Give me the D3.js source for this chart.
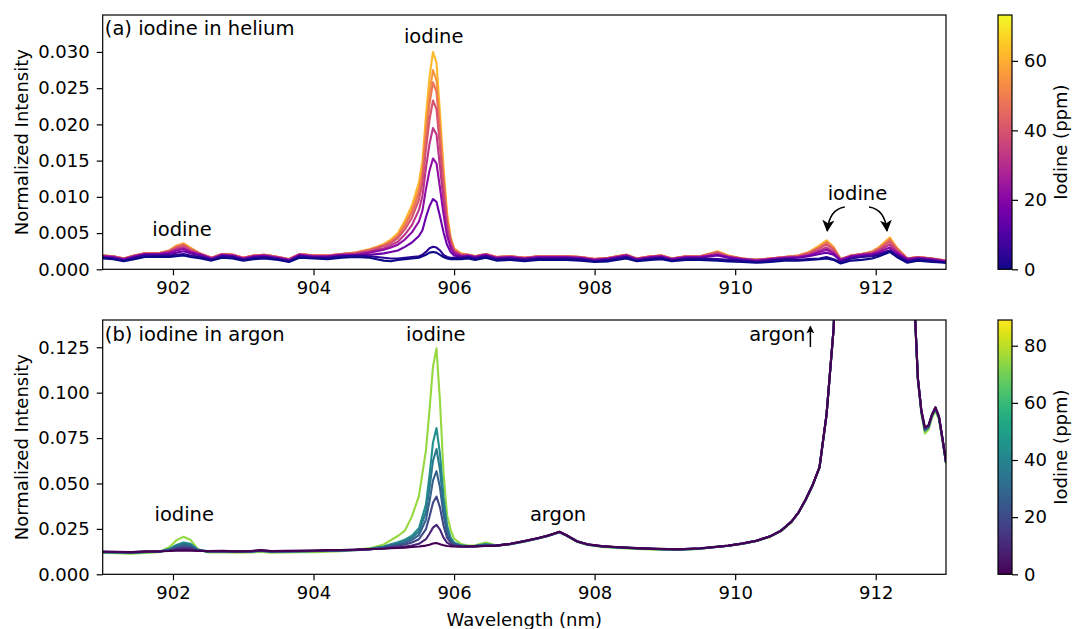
<!DOCTYPE html>
<html><head><meta charset="utf-8">
<script src="https://cdn.jsdelivr.net/npm/d3@7"></script>
<style>body{margin:0;background:#fff;} svg text{font-family:"DejaVu Sans",sans-serif;}</style>
</head><body><svg id="c" width="1072" height="629"></svg>
<script>
// ---------------- DATA ----------------
const xTicks = [902, 904, 906, 908, 910, 912];
const heliumYTicks = [0, 0.005, 0.010, 0.015, 0.020, 0.025, 0.030];
const argonYTicks = [0, 0.025, 0.050, 0.075, 0.100, 0.125];
const heliumCbTicks = [0, 20, 40, 60];
const argonCbTicks = [0, 20, 40, 60, 80];

// (a) iodine in helium
const heliumWavelength = [901.0,901.15,901.3,901.45,901.6,901.8,901.95,902.05,902.15,902.25,902.4,902.55,902.7,902.85,903.0,903.15,903.3,903.5,903.65,903.8,904.0,904.2,904.4,904.6,904.8,904.9,905.0,905.1,905.2,905.3,905.4,905.5,905.55,905.6,905.65,905.7,905.75,905.8,905.85,905.9,905.95,906.0,906.1,906.2,906.3,906.45,906.6,906.8,907.0,907.2,907.4,907.6,907.8,908.0,908.2,908.45,908.6,908.8,908.95,909.1,909.3,909.5,909.75,909.9,910.1,910.3,910.5,910.7,910.9,911.05,911.2,911.3,911.4,911.5,911.65,911.8,911.95,912.05,912.2,912.3,912.45,912.6,912.8,913.0];
const heliumPpm = [0, 4, 15, 22, 32, 40, 48, 55, 62];
const helium0 = [.0015,.0014,.0011,.0014,.0017,.0017,.0017,.0018,.0019,.0017,.0015,.0012,.0016,.0015,.0012,.0014,.0015,.0013,.0010,.0016,.0015,.0014,.0016,.0017,.0016,.0014,.0012,.0011,.0013,.0014,.0015,.0016,.0018,.0020,.0023,.0024,.0023,.0020,.0017,.0015,.0014,.0014,.0014,.0015,.0013,.0016,.0012,.0013,.0011,.0013,.0013,.0013,.0012,.0010,.0011,.0015,.0011,.0013,.0014,.0011,.0013,.0013,.0012,.0011,.0010,.0009,.0010,.0012,.0012,.0013,.0014,.0015,.0013,.0008,.0012,.0013,.0015,.0018,.0024,.0017,.0009,.0012,.0010,.0009];
const helium4 = [.0016,.0015,.0012,.0016,.0019,.0019,.0019,.0020,.0021,.0019,.0017,.0013,.0018,.0017,.0013,.0016,.0017,.0014,.0011,.0018,.0016,.0016,.0018,.0019,.0018,.0017,.0016,.0015,.0015,.0016,.0017,.0018,.0020,.0024,.0029,.0031,.0030,.0026,.0020,.0017,.0016,.0016,.0016,.0017,.0015,.0018,.0014,.0015,.0013,.0015,.0015,.0015,.0014,.0011,.0013,.0017,.0012,.0015,.0016,.0012,.0015,.0015,.0014,.0013,.0012,.0010,.0012,.0014,.0013,.0014,.0015,.0017,.0014,.0010,.0015,.0017,.0018,.0020,.0026,.0019,.0011,.0014,.0012,.0009];
const helium15 = [.0017,.0016,.0013,.0017,.0020,.0020,.0021,.0023,.0025,.0022,.0019,.0014,.0019,.0018,.0014,.0017,.0018,.0015,.0012,.0019,.0017,.0017,.0019,.0019,.0020,.0021,.0022,.0024,.0026,.0031,.0037,.0046,.0054,.0072,.0087,.0097,.0093,.0073,.0051,.0034,.0024,.0019,.0017,.0018,.0016,.0019,.0015,.0016,.0014,.0016,.0016,.0016,.0015,.0012,.0014,.0018,.0013,.0016,.0017,.0013,.0016,.0016,.0019,.0016,.0013,.0011,.0013,.0015,.0016,.0018,.0021,.0023,.0020,.0012,.0017,.0019,.0020,.0022,.0026,.0021,.0013,.0015,.0013,.0010];
const helium22 = [.0018,.0017,.0014,.0018,.0021,.0021,.0023,.0026,.0028,.0024,.0020,.0015,.0020,.0019,.0015,.0018,.0019,.0016,.0013,.0020,.0018,.0018,.0020,.0020,.0023,.0025,.0027,.0030,.0034,.0041,.0051,.0066,.0081,.0111,.0136,.0153,.0146,.0112,.0076,.0046,.0030,.0022,.0018,.0019,.0017,.0020,.0016,.0017,.0015,.0017,.0017,.0017,.0016,.0013,.0015,.0019,.0014,.0017,.0018,.0014,.0017,.0017,.0020,.0017,.0014,.0012,.0014,.0016,.0017,.0019,.0024,.0027,.0022,.0013,.0018,.0020,.0021,.0024,.0030,.0023,.0014,.0016,.0014,.0011];
const helium32 = [.0018,.0017,.0014,.0018,.0021,.0021,.0024,.0028,.0030,.0025,.0020,.0015,.0020,.0019,.0015,.0018,.0019,.0016,.0013,.0020,.0018,.0018,.0020,.0021,.0024,.0027,.0029,.0033,.0038,.0048,.0061,.0082,.0101,.0140,.0173,.0195,.0186,.0141,.0094,.0055,.0034,.0024,.0019,.0019,.0017,.0020,.0016,.0017,.0015,.0017,.0017,.0017,.0016,.0013,.0015,.0019,.0014,.0017,.0018,.0014,.0017,.0017,.0021,.0017,.0014,.0012,.0014,.0016,.0017,.0020,.0026,.0030,.0024,.0013,.0018,.0020,.0022,.0026,.0034,.0025,.0014,.0016,.0014,.0011];
const helium40 = [.0019,.0018,.0015,.0019,.0022,.0022,.0025,.0030,.0033,.0027,.0021,.0016,.0021,.0020,.0016,.0019,.0020,.0017,.0014,.0021,.0019,.0019,.0021,.0022,.0026,.0029,.0032,.0036,.0043,.0055,.0071,.0096,.0119,.0166,.0206,.0233,.0221,.0168,.0111,.0064,.0039,.0026,.0020,.0020,.0018,.0021,.0017,.0018,.0016,.0018,.0018,.0018,.0017,.0014,.0016,.0020,.0015,.0018,.0019,.0015,.0018,.0018,.0023,.0018,.0015,.0013,.0015,.0017,.0018,.0022,.0029,.0034,.0027,.0014,.0019,.0021,.0023,.0028,.0038,.0027,.0015,.0017,.0015,.0012];
const helium48 = [.0019,.0018,.0015,.0019,.0022,.0022,.0026,.0031,.0034,.0028,.0021,.0016,.0021,.0020,.0016,.0019,.0020,.0017,.0014,.0021,.0019,.0019,.0021,.0023,.0027,.0030,.0033,.0038,.0046,.0060,.0078,.0105,.0130,.0183,.0228,.0258,.0245,.0186,.0122,.0069,.0041,.0027,.0021,.0020,.0018,.0021,.0017,.0018,.0016,.0018,.0018,.0018,.0017,.0014,.0016,.0020,.0015,.0018,.0019,.0015,.0018,.0018,.0024,.0018,.0015,.0013,.0015,.0017,.0019,.0023,.0030,.0037,.0029,.0014,.0019,.0021,.0024,.0029,.0041,.0029,.0015,.0017,.0015,.0012];
const helium55 = [.0019,.0018,.0015,.0019,.0022,.0022,.0026,.0032,.0035,.0029,.0021,.0016,.0021,.0020,.0016,.0019,.0020,.0017,.0014,.0021,.0019,.0019,.0021,.0023,.0027,.0030,.0034,.0039,.0047,.0063,.0082,.0111,.0138,.0195,.0243,.0275,.0261,.0197,.0129,.0073,.0043,.0028,.0021,.0020,.0018,.0021,.0017,.0018,.0016,.0018,.0018,.0018,.0017,.0014,.0016,.0020,.0015,.0018,.0019,.0015,.0018,.0018,.0024,.0019,.0015,.0013,.0015,.0017,.0019,.0023,.0031,.0038,.0030,.0014,.0019,.0021,.0024,.0030,.0042,.0029,.0015,.0017,.0015,.0012];
const helium62 = [.0019,.0018,.0015,.0019,.0022,.0022,.0026,.0033,.0036,.0030,.0021,.0016,.0021,.0020,.0016,.0019,.0020,.0017,.0014,.0021,.0019,.0019,.0021,.0023,.0028,.0031,.0035,.0041,.0050,.0067,.0088,.0120,.0150,.0212,.0265,.0300,.0285,.0215,.0140,.0078,.0045,.0029,.0022,.0020,.0018,.0021,.0017,.0018,.0016,.0018,.0018,.0018,.0017,.0014,.0016,.0020,.0015,.0018,.0019,.0015,.0018,.0018,.0025,.0019,.0015,.0013,.0015,.0017,.0019,.0024,.0033,.0040,.0031,.0014,.0019,.0021,.0025,.0031,.0044,.0030,.0015,.0017,.0015,.0012];

// (b) iodine in argon
const argonWavelength = [901.0,901.2,901.4,901.6,901.8,901.95,902.05,902.15,902.25,902.35,902.5,902.7,902.9,903.1,903.25,903.4,903.6,903.8,904.0,904.2,904.4,904.6,904.8,905.0,905.1,905.2,905.3,905.4,905.5,905.6,905.65,905.7,905.75,905.8,905.85,905.9,905.95,906.0,906.1,906.2,906.3,906.45,906.6,906.8,907.0,907.2,907.35,907.5,907.6,907.75,907.9,908.1,908.3,908.6,908.9,909.2,909.5,909.7,909.9,910.1,910.3,910.5,910.65,910.8,910.9,911.0,911.1,911.2,911.3,911.4,911.5,911.7,912.0,912.3,912.45,912.55,912.6,912.65,912.7,912.75,912.8,912.85,912.9,912.95,913.0];
const argonPpm = [0, 9, 19, 28, 36, 44, 75];
const argon0 = [.0125,.0124,.0122,.0126,.0127,.0128,.0130,.0131,.0130,.0129,.0128,.0129,.0127,.0128,.0133,.0128,.0129,.0130,.0131,.0133,.0134,.0136,.0139,.0141,.0143,.0145,.0147,.0150,.0153,.0158,.0163,.0170,.0172,.0166,.0160,.0156,.0154,.0153,.0152,.0153,.0154,.0156,.0158,.0168,.0183,.0200,.0215,.0234,.0215,.0182,.0165,.0155,.0150,.0144,.0140,.0138,.0143,.0150,.0158,.0170,.0185,.0210,.0240,.0290,.0340,.0410,.0490,.0590,.0880,.1350,.2200,.4000,.6000,.4000,.2500,.1500,.1080,.0900,.0810,.0820,.0880,.0920,.0870,.0750,.0620];
const argon9 = [.0124,.0123,.0121,.0125,.0126,.0130,.0137,.0140,.0139,.0130,.0127,.0128,.0126,.0127,.0132,.0127,.0128,.0129,.0130,.0132,.0133,.0135,.0138,.0142,.0146,.0149,.0153,.0159,.0168,.0193,.0223,.0257,.0272,.0246,.0202,.0174,.0162,.0156,.0153,.0153,.0154,.0157,.0158,.0168,.0183,.0200,.0215,.0234,.0215,.0182,.0165,.0155,.0150,.0144,.0140,.0138,.0143,.0150,.0158,.0170,.0185,.0210,.0240,.0290,.0340,.0410,.0490,.0590,.0880,.1350,.2200,.4000,.6000,.4000,.2500,.1500,.1080,.0900,.0805,.0818,.0878,.0918,.0868,.0748,.0618];
const argon19 = [.0123,.0122,.0120,.0124,.0125,.0132,.0144,.0150,.0147,.0131,.0126,.0127,.0125,.0126,.0131,.0126,.0127,.0128,.0129,.0131,.0132,.0134,.0137,.0146,.0152,.0157,.0164,.0175,.0193,.0249,.0317,.0394,.0428,.0367,.0268,.0202,.0174,.0162,.0155,.0154,.0155,.0158,.0158,.0167,.0182,.0199,.0214,.0233,.0214,.0181,.0164,.0154,.0149,.0143,.0139,.0137,.0142,.0149,.0157,.0169,.0184,.0209,.0239,.0289,.0339,.0408,.0488,.0588,.0878,.1348,.2200,.4000,.6000,.4000,.2500,.1500,.1078,.0898,.0800,.0815,.0876,.0916,.0866,.0746,.0617];
const argon28 = [.0122,.0121,.0119,.0123,.0125,.0134,.0151,.0160,.0155,.0133,.0126,.0126,.0124,.0125,.0130,.0125,.0126,.0127,.0128,.0130,.0131,.0133,.0137,.0148,.0157,.0164,.0174,.0189,.0216,.0300,.0401,.0517,.0568,.0476,.0327,.0227,.0185,.0167,.0156,.0154,.0155,.0159,.0158,.0167,.0182,.0199,.0214,.0233,.0214,.0181,.0164,.0154,.0149,.0143,.0139,.0137,.0142,.0149,.0157,.0169,.0184,.0209,.0239,.0289,.0339,.0408,.0488,.0588,.0878,.1348,.2200,.4000,.6000,.4000,.2500,.1500,.1076,.0896,.0797,.0812,.0874,.0914,.0864,.0744,.0616];
const argon36 = [.0122,.0121,.0119,.0123,.0124,.0137,.0157,.0168,.0162,.0135,.0125,.0126,.0124,.0125,.0130,.0125,.0126,.0127,.0128,.0130,.0131,.0134,.0139,.0151,.0161,.0170,.0183,.0201,.0235,.0344,.0474,.0624,.0690,.0572,.0378,.0249,.0195,.0171,.0157,.0155,.0156,.0162,.0158,.0166,.0181,.0198,.0213,.0232,.0213,.0180,.0163,.0153,.0148,.0142,.0138,.0136,.0141,.0149,.0157,.0169,.0184,.0209,.0239,.0289,.0339,.0408,.0488,.0588,.0878,.1348,.2200,.4000,.6000,.4000,.2500,.1500,.1074,.0894,.0794,.0810,.0872,.0912,.0862,.0742,.0615];
const argon44 = [.0121,.0120,.0118,.0122,.0124,.0140,.0162,.0175,.0168,.0138,.0124,.0125,.0123,.0124,.0129,.0124,.0125,.0126,.0127,.0129,.0131,.0135,.0141,.0153,.0165,.0176,.0191,.0212,.0253,.0385,.0543,.0726,.0805,.0661,.0426,.0270,.0204,.0175,.0159,.0155,.0157,.0166,.0158,.0166,.0181,.0198,.0213,.0232,.0213,.0180,.0163,.0153,.0148,.0142,.0138,.0136,.0141,.0150,.0157,.0169,.0184,.0209,.0239,.0289,.0339,.0408,.0488,.0588,.0878,.1348,.2200,.4000,.6000,.4000,.2500,.1500,.1072,.0892,.0790,.0808,.0870,.0910,.0860,.0740,.0614];
const argon75 = [.0117,.0116,.0114,.0118,.0122,.0150,.0188,.0207,.0190,.0140,.0120,.0121,.0119,.0120,.0124,.0119,.0120,.0121,.0122,.0124,.0127,.0134,.0144,.0164,.0188,.0211,.0240,.0319,.0430,.0683,.0902,.1144,.1244,.0949,.0556,.0327,.0246,.0196,.0167,.0158,.0160,.0175,.0160,.0165,.0180,.0197,.0212,.0231,.0212,.0178,.0161,.0150,.0145,.0139,.0135,.0134,.0140,.0152,.0156,.0167,.0182,.0206,.0236,.0286,.0336,.0405,.0485,.0585,.0875,.1345,.2200,.4000,.6000,.4000,.2500,.1500,.1065,.0880,.0775,.0795,.0860,.0900,.0850,.0730,.0610];

const heliumSeries = [helium0, helium4, helium15, helium22, helium32, helium40, helium48, helium55, helium62];
const argonSeries = [argon0, argon9, argon19, argon28, argon36, argon44, argon75];

// ---------------- DRAW ----------------
const FONT = "DejaVu Sans, sans-serif";
const FS = 18;      // axis text
const FA = 19.5;    // annotation text
const svg = d3.select("#c");
const defs = svg.append("defs");
const X = d3.scaleLinear().domain([901, 913]).range([102.7, 946]);

function addMarker(id, size) {
  defs.append("marker").attr("id", id).attr("viewBox", "0 0 10 10")
    .attr("refX", 9).attr("refY", 5).attr("markerWidth", size).attr("markerHeight", size)
    .attr("markerUnits", "userSpaceOnUse").attr("orient", "auto")
    .append("path").attr("d", "M0,0 L10,5 L0,10 L2.5,5 Z").attr("fill", "#000");
}
addMarker("ahBig", 12);
addMarker("ahSmall", 8);

function styleAxis(a) {
  a.select(".domain").remove();
  a.attr("font-family", FONT).attr("font-size", FS);
  a.selectAll("line").attr("stroke", "#000").attr("stroke-width", 1.2);
  a.selectAll("text").attr("fill", "#000");
}

function drawPanel(o) {
  const y = d3.scaleLinear().domain([0, o.yMax]).range([o.bottom, o.top]);
  const g = svg.append("g");
  defs.append("clipPath").attr("id", "clip" + o.id).append("rect")
    .attr("x", X.range()[0]).attr("y", o.top)
    .attr("width", X.range()[1] - X.range()[0]).attr("height", o.bottom - o.top);
  const color = d3.scaleSequential(o.interp).domain([0, o.cMax]);
  const line = d3.line().x((d, i) => X(o.wl[i])).y(d => y(d));
  const order = d3.range(o.series.length).sort((a, b) => o.ppm[b] - o.ppm[a]);
  g.append("g").attr("clip-path", `url(#clip${o.id})`)
    .selectAll("path").data(order).join("path")
    .attr("d", k => line(o.series[k]))
    .attr("fill", "none").attr("stroke", k => color(o.ppm[k]))
    .attr("stroke-width", 2.1).attr("stroke-linejoin", "round");

  const xa = g.append("g").attr("transform", `translate(0,${o.bottom})`)
    .call(d3.axisBottom(X).tickValues(xTicks).tickFormat(d3.format("d")).tickSize(6).tickPadding(6));
  styleAxis(xa);
  const ya = g.append("g").attr("transform", `translate(${X.range()[0]},0)`)
    .call(d3.axisLeft(y).tickValues(o.yTicks).tickFormat(d3.format(".3f")).tickSize(6).tickPadding(7));
  styleAxis(ya);
  g.append("rect").attr("x", X.range()[0]).attr("y", o.top)
    .attr("width", X.range()[1] - X.range()[0]).attr("height", o.bottom - o.top)
    .attr("fill", "none").attr("stroke", "#000").attr("stroke-width", 1.2);

  g.append("text").attr("transform", `translate(28,${(o.top + o.bottom) / 2}) rotate(-90)`)
    .attr("text-anchor", "middle").attr("font-family", FONT).attr("font-size", FS)
    .text("Normalized Intensity");

  // colorbar
  const cbX = 998, cbW = 14;
  const grad = defs.append("linearGradient").attr("id", "grad" + o.id)
    .attr("x1", 0).attr("y1", 1).attr("x2", 0).attr("y2", 0);
  d3.range(0, 1.0001, 0.02).forEach(t => grad.append("stop")
    .attr("offset", t).attr("stop-color", o.interp(t)));
  g.append("rect").attr("x", cbX).attr("y", o.top).attr("width", cbW)
    .attr("height", o.bottom - o.top).attr("fill", `url(#grad${o.id})`);
  g.append("rect").attr("x", cbX).attr("y", o.top).attr("width", cbW)
    .attr("height", o.bottom - o.top).attr("fill", "none").attr("stroke", "#000").attr("stroke-width", 1.2);
  const cs = d3.scaleLinear().domain([0, o.cMax]).range([o.bottom, o.top]);
  const ca = g.append("g").attr("transform", `translate(${cbX + cbW},0)`)
    .call(d3.axisRight(cs).tickValues(o.cTicks).tickFormat(d3.format("d")).tickSize(6).tickPadding(6));
  styleAxis(ca);
  g.append("text").attr("transform", `translate(1067,${(o.top + o.bottom) / 2}) rotate(-90)`)
    .attr("text-anchor", "middle").attr("font-family", FONT).attr("font-size", FS)
    .text("Iodine (ppm)");
  return { g, y };
}

function label(g, txt, x, y, anchor) {
  g.append("text").attr("x", x).attr("y", y).attr("text-anchor", anchor || "middle")
    .attr("font-family", FONT).attr("font-size", FA).attr("fill", "#000").text(txt);
}

// panel (a)
const A = drawPanel({ id: "a", top: 15, bottom: 269.3, yMax: 0.0351, yTicks: heliumYTicks,
  wl: heliumWavelength, series: heliumSeries, ppm: heliumPpm,
  interp: d3.interpolatePlasma, cMax: 73.2, cTicks: heliumCbTicks });
label(A.g, "(a) iodine in helium", X(901.03), A.y(0.0323), "start");
label(A.g, "iodine", X(905.71), A.y(0.0313));
label(A.g, "iodine", X(902.13), A.y(0.0046));
label(A.g, "iodine", X(911.74), A.y(0.0096));
A.g.append("path")
  .attr("d", `M${X(911.56)},${A.y(0.0086)} Q${X(911.34)},${A.y(0.0083)} ${X(911.31)},${A.y(0.0053)}`)
  .attr("fill", "none").attr("stroke", "#000").attr("stroke-width", 1.6).attr("marker-end", "url(#ahBig)");
A.g.append("path")
  .attr("d", `M${X(911.905)},${A.y(0.0086)} Q${X(912.13)},${A.y(0.0083)} ${X(912.16)},${A.y(0.0053)}`)
  .attr("fill", "none").attr("stroke", "#000").attr("stroke-width", 1.6).attr("marker-end", "url(#ahBig)");

// panel (b)
const B = drawPanel({ id: "b", top: 320, bottom: 574.3, yMax: 0.1400, yTicks: argonYTicks,
  wl: argonWavelength, series: argonSeries, ppm: argonPpm,
  interp: d3.interpolateViridis, cMax: 89.0, cTicks: argonCbTicks });
label(B.g, "(b) iodine in argon", X(901.03), B.y(0.1285), "start");
label(B.g, "iodine", X(905.74), B.y(0.1285));
label(B.g, "iodine", X(902.16), B.y(0.0293));
label(B.g, "argon", X(907.48), B.y(0.0293));
label(B.g, "argon", X(911.0), B.y(0.1285), "end");
B.g.append("line").attr("x1", X(911.07)).attr("x2", X(911.07))
  .attr("y1", B.y(0.1251)).attr("y2", B.y(0.1365))
  .attr("stroke", "#000").attr("stroke-width", 1.5).attr("marker-end", "url(#ahSmall)");

svg.append("text").attr("x", (X.range()[0] + X.range()[1]) / 2).attr("y", 626)
  .attr("text-anchor", "middle").attr("font-family", FONT).attr("font-size", FS)
  .text("Wavelength (nm)");
</script></body></html>
